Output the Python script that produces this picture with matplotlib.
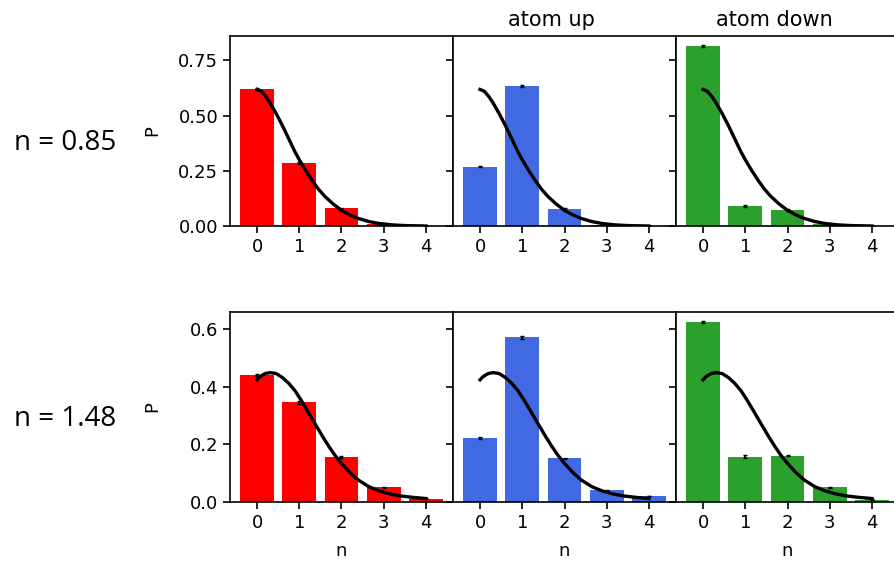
import matplotlib
matplotlib.use("Agg")
import matplotlib.pyplot as plt

# photon number distributions P(n), two mean photon numbers
n_vals = [0, 1, 2, 3, 4]
row_labels = ["n = 0.85", "n = 1.48"]
col_titles = ["", "atom up", "atom down"]
colors = ["red", "royalblue", "tab:green"]

p_085_all = [0.620, 0.285, 0.080, 0.010, 0.001]
p_085_up = [0.269, 0.633, 0.077, 0.006, 0.001]
p_085_down = [0.815, 0.092, 0.072, 0.008, 0.001]

p_148_all = [0.441, 0.346, 0.157, 0.051, 0.012]
p_148_up = [0.221, 0.571, 0.151, 0.041, 0.021]
p_148_down = [0.624, 0.157, 0.161, 0.051, 0.008]

err_085 = [0.004, 0.004, 0.003, 0.002, 0.001]
err_148 = [0.004, 0.006, 0.003, 0.002, 0.001]

# reference curves
curve_085_x = [0, 0.1, 0.2, 0.3, 0.45, 0.6, 0.75, 0.9, 1.0, 1.15, 1.3, 1.45,
               1.6, 1.8, 2.0, 2.2, 2.4, 2.65, 2.9, 3.2, 3.5, 4.0]
curve_085_y = [0.618, 0.610, 0.588, 0.560, 0.510, 0.455, 0.395, 0.335, 0.300,
               0.252, 0.208, 0.168, 0.135, 0.100, 0.071, 0.050, 0.034, 0.020,
               0.011, 0.005, 0.002, 0.0]
curve_148_x = [0, 0.05, 0.1, 0.2, 0.31, 0.45, 0.6, 0.75, 0.9, 1.05, 1.2, 1.38,
               1.55, 1.7, 1.85, 2.0, 2.2, 2.4, 2.65, 2.9, 3.15, 3.4, 3.7, 4.0]
curve_148_y = [0.424, 0.432, 0.438, 0.446, 0.449, 0.446, 0.432, 0.412, 0.386,
               0.352, 0.315, 0.270, 0.228, 0.193, 0.161, 0.134, 0.102, 0.076,
               0.053, 0.038, 0.028, 0.021, 0.016, 0.012]

yticks_085 = [0.0, 0.25, 0.5, 0.75]
yticks_148 = [0.0, 0.2, 0.4, 0.6]

rows = [
    ([p_085_all, p_085_up, p_085_down], err_085, curve_085_x, curve_085_y, yticks_085, "%.2f"),
    ([p_148_all, p_148_up, p_148_down], err_148, curve_148_x, curve_148_y, yticks_148, "%.1f"),
]

fig = plt.figure(figsize=(8.94, 5.67), dpi=100)
plt.rcParams["axes.linewidth"] = 1.2

x0, w = 230 / 894, 223 / 894
tops = [36, 312]
h = 190 / 567
TICK = 13

for r, (series, err, cx, cy, yt, fmt) in enumerate(rows):
    bottom = 1 - (tops[r] + 190) / 567
    ref = None
    for c in range(3):
        ax = fig.add_axes([x0 + c * w, bottom, w, h], sharey=ref)
        if ref is None:
            ref = ax
        ax.bar(n_vals, series[c], width=0.8, color=colors[c],
               yerr=err, ecolor="black", error_kw=dict(elinewidth=1.5, capsize=1.2))
        ax.plot(cx, cy, color="black", lw=2.4, solid_joinstyle="round")
        ax.set_xticks(n_vals)
        ax.set_yticks(yt)
        ax.yaxis.set_major_formatter(matplotlib.ticker.FormatStrFormatter(fmt))
        ax.tick_params(labelsize=TICK, width=1.2, length=5)
        if c == 0:
            ax.set_ylabel("P", fontsize=TICK)
            ax.yaxis.set_label_coords(-0.31, 0.5)
        else:
            ax.tick_params(labelleft=False)
        if r == 1:
            ax.set_xlabel("n", fontsize=TICK, labelpad=7)
        if r == 0 and col_titles[c]:
            ax.set_title(col_titles[c], fontsize=15, x=0.44, pad=7)
    fig.text(14 / 894, 1 - (tops[r] + 107) / 567, row_labels[r],
             fontsize=20, family="Open Sans", va="center", ha="left")

fig.savefig("out.png", dpi=100)
